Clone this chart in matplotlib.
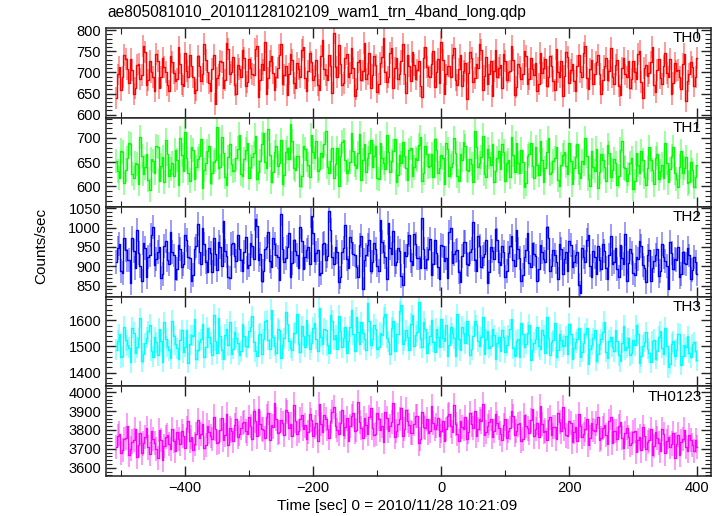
import numpy as np
import matplotlib
matplotlib.use("Agg")
import matplotlib.pyplot as plt
from matplotlib.ticker import MultipleLocator

plt.rcParams['font.family'] = ['Liberation Sans', 'DejaVu Sans']

title = "ae805081010_20101128102109_wam1_trn_4band_long.qdp"
xlabel = "Time [sec] 0 = 2010/11/28 10:21:09"
ylabel = "Counts/sec"

# bins: first half-set starts at t_start, second half-set is offset by half a step
t_start = -507.5
bin_width = 5.0

names = ["TH0", "TH1", "TH2", "TH3", "TH0123"]
colors = ["#ff0000", "#00ff00", "#0000ff", "#00ffff", "#ff00ff"]

th0_a = [640, 712, 688, 731, 676, 705, 662, 719, 694, 748, 681, 702, 655, 726, 690, 713, 671, 738, 699, 684,
         721, 667, 703, 742, 688, 659, 715, 697, 730, 676, 708, 625, 693, 724, 681, 756, 702, 669, 717, 690,
         735, 678, 711, 694, 762, 683, 706, 648, 727, 699, 688, 741, 672, 714, 697, 730, 664, 709, 752, 686,
         703, 724, 691, 669, 738, 707, 682, 715, 794, 688, 721, 676, 744, 698, 710, 661, 729, 703, 685, 747,
         693, 717, 672, 736, 701, 689, 758, 711, 684, 726, 697, 742, 679, 718, 705, 667, 733, 712, 688, 751,
         702, 676, 729, 695, 714, 741, 683, 707, 668, 722, 699, 735, 687, 710, 754, 692, 673, 726, 704, 689,
         718, 744, 681, 703, 729, 665, 712, 696, 739, 684, 707, 722, 673, 698, 731, 688, 715, 659, 702, 726,
         691, 737, 706, 679, 714, 700, 745, 686, 709, 672, 724, 697, 681, 733, 704, 690, 718, 668, 711, 695,
         728, 684, 702, 743, 677, 710, 692, 724, 669, 706, 687, 715, 698, 731, 676, 703, 689, 720, 632, 697,
         712, 688]
th0_b = [695, 658, 742, 707, 731, 649, 718, 684, 763, 671, 726, 690, 744, 662, 735, 701, 657, 724, 680, 759,
         673, 745, 689, 716, 652, 738, 679, 767, 702, 655, 741, 687, 728, 664, 770, 695, 736, 648, 709, 753,
         668, 732, 697, 755, 642, 719, 771, 686, 738, 659, 711, 768, 693, 647, 743, 676, 722, 690, 761, 657,
         746, 681, 729, 658, 776, 694, 740, 651, 713, 764, 670, 733, 689, 757, 643, 725, 683, 769, 696, 662,
         739, 654, 722, 781, 678, 745, 663, 734, 697, 768, 652, 716, 749, 684, 727, 641, 759, 692, 720, 666,
         731, 772, 650, 715, 688, 757, 669, 742, 703, 636, 748, 677, 720, 766, 659, 737, 695, 644, 753, 710,
         664, 728, 702, 762, 647, 719, 685, 751, 672, 733, 694, 657, 745, 711, 667, 738, 680, 756, 690, 643,
         749, 676, 721, 655, 740, 688, 763, 661, 729, 697, 742, 650, 716, 682, 758, 673, 730, 646, 735, 689,
         662, 726, 684, 751, 639, 717, 698, 759, 654, 731, 673, 746, 688, 649, 722, 706, 661, 743, 679, 725,
         668, 734]

th1_a = [652, 618, 671, 633, 690, 626, 648, 605, 662, 639, 614, 657, 628, 681, 643, 609, 667, 636, 621, 654,
         699, 631, 658, 612, 675, 640, 662, 597, 649, 684, 627, 655, 638, 702, 619, 661, 646, 633, 678, 625,
         657, 689, 641, 668, 616, 652, 711, 637, 664, 629, 683, 648, 605, 671, 656, 694, 634, 662, 621, 677,
         645, 706, 658, 632, 669, 687, 641, 653, 618, 679, 662, 696, 627, 650, 673, 638, 709, 655, 629, 668,
         641, 684, 616, 659, 636, 671, 652, 697, 624, 648, 662, 613, 680, 639, 655, 701, 628, 666, 643, 619,
         675, 637, 658, 690, 622, 649, 668, 611, 654, 683, 631, 646, 714, 639, 661, 626, 677, 645, 608, 659,
         636, 672, 648, 619, 664, 690, 628, 651, 606, 667, 642, 681, 623, 655, 637, 699, 630, 658, 614, 645,
         671, 626, 652, 638, 687, 617, 646, 663, 601, 640, 678, 629, 655, 612, 669, 634, 648, 621, 693, 637,
         626, 659, 611, 644, 673, 620, 638, 654, 604, 667, 631, 618, 649, 636, 682, 615, 641, 627, 660, 609,
         633, 619]
th1_b = [631, 674, 607, 659, 688, 618, 646, 702, 625, 667, 593, 652, 683, 611, 660, 696, 622, 649, 675, 603,
         664, 712, 628, 681, 615, 657, 697, 634, 673, 606, 650, 722, 641, 668, 603, 688, 632, 659, 707, 621,
         676, 617, 661, 705, 630, 687, 651, 718, 609, 670, 642, 696, 624, 679, 728, 638, 662, 601, 684, 655,
         619, 672, 693, 636, 660, 715, 627, 680, 646, 601, 692, 655, 633, 711, 644, 669, 614, 687, 658, 696,
         662, 617, 690, 648, 707, 629, 673, 608, 664, 691, 637, 675, 621, 658, 686, 612, 683, 640, 667, 698,
         628, 664, 605, 677, 641, 700, 622, 666, 691, 634, 657, 608, 681, 648, 705, 619, 660, 688, 631, 673,
         687, 612, 655, 701, 629, 648, 676, 598, 662, 689, 617, 644, 693, 608, 670, 625, 653, 682, 601, 664,
         642, 690, 604, 661, 627, 653, 700, 615, 674, 632, 596, 667, 641, 685, 620, 657, 603, 676, 639, 612,
         649, 595, 668, 627, 654, 602, 681, 633, 659, 616, 645, 689, 608, 662, 627, 599, 673, 638, 606, 651,
         598, 644]

th2_a = [910, 958, 882, 941, 917, 973, 896, 935, 862, 948, 924, 981, 903, 937, 869, 952, 915, 990, 928, 894,
         945, 907, 968, 921, 878, 953, 936, 999, 912, 947, 885, 931, 964, 902, 940, 873, 957, 926, 982, 915,
         938, 896, 961, 919, 1004, 932, 887, 950, 913, 972, 929, 864, 946, 921, 985, 908, 939, 896, 966, 924,
         951, 1031, 914, 942, 883, 960, 927, 995, 906, 938, 871, 948, 919, 976, 933, 897, 954, 842, 929, 968,
         910, 944, 889, 962, 925, 1012, 931, 903, 948, 876, 937, 959, 914, 983, 922, 895, 946, 918, 971, 906,
         935, 867, 953, 921, 989, 909, 940, 884, 927, 962, 903, 944, 916, 978, 898, 931, 858, 950, 920, 967,
         904, 937, 889, 952, 915, 995, 921, 878, 943, 909, 961, 927, 893, 938, 912, 973, 900, 929, 866, 946,
         918, 887, 954, 910, 936, 831, 925, 967, 902, 940, 879, 917, 958, 896, 930, 906, 948, 873, 921, 984,
         909, 934, 877, 919, 952, 896, 928, 863, 913, 945, 889, 924, 901, 962, 892, 916, 871, 937, 905, 928,
         890, 912]
th2_b = [948, 889, 972, 915, 856, 939, 993, 901, 960, 873, 929, 1002, 918, 951, 880, 966, 906, 937, 868, 955,
         899, 981, 924, 863, 946, 1010, 907, 958, 885, 934, 972, 891, 949, 1017, 926, 870, 961, 913, 944, 889,
         975, 903, 952, 1023, 917, 861, 945, 988, 899, 957, 925, 1036, 911, 949, 872, 969, 930, 1001, 893, 941,
         906, 985, 934, 877, 958, 915, 1042, 923, 950, 859, 937, 1006, 896, 964, 928, 873, 979, 917, 955, 888,
         961, 902, 1019, 936, 867, 947, 991, 910, 939, 852, 926, 982, 903, 958, 921, 1026, 895, 944, 877, 968,
         897, 956, 914, 870, 998, 931, 943, 860, 963, 905, 937, 1014, 889, 952, 925, 968, 884, 939, 996, 911,
         952, 873, 935, 978, 901, 946, 862, 924, 987, 898, 933, 861, 955, 919, 1003, 887, 942, 911, 958, 879,
         936, 965, 897, 928, 852, 947, 910, 982, 871, 925, 953, 894, 939, 866, 979, 912, 893, 954, 907, 861,
         944, 882, 923, 965, 903, 859, 941, 896, 929, 874, 957, 913, 842, 935, 918, 951, 880, 909, 947, 868,
         925, 879]

th3_a = [1488, 1547, 1462, 1523, 1495, 1571, 1476, 1531, 1443, 1512, 1558, 1484, 1536, 1467, 1519, 1592, 1501, 1455, 1540, 1493,
         1526, 1478, 1563, 1509, 1541, 1452, 1517, 1584, 1496, 1535, 1469, 1522, 1607, 1488, 1544, 1504, 1471, 1556, 1513, 1481,
         1539, 1497, 1574, 1518, 1463, 1549, 1528, 1601, 1490, 1537, 1475, 1561, 1506, 1632, 1521, 1486, 1553, 1510, 1578, 1499,
         1544, 1515, 1589, 1481, 1536, 1567, 1504, 1620, 1527, 1492, 1558, 1533, 1476, 1575, 1546, 1611, 1509, 1553, 1488, 1597,
         1530, 1566, 1499, 1545, 1623, 1518, 1571, 1484, 1549, 1660, 1523, 1538, 1587, 1503, 1556, 1529, 1594, 1475, 1541, 1517,
         1568, 1497, 1534, 1582, 1506, 1551, 1463, 1528, 1576, 1512, 1545, 1489, 1598, 1520, 1536, 1471, 1559, 1502, 1543, 1514,
         1481, 1537, 1505, 1566, 1493, 1521, 1458, 1546, 1510, 1583, 1487, 1528, 1501, 1562, 1474, 1533, 1517, 1591, 1485, 1524,
         1506, 1472, 1548, 1493, 1527, 1461, 1515, 1570, 1490, 1532, 1446, 1509, 1555, 1479, 1521, 1498, 1562, 1467, 1513, 1488,
         1532, 1474, 1505, 1549, 1462, 1517, 1491, 1440, 1526, 1483, 1558, 1470, 1501, 1433, 1519, 1487, 1546, 1464, 1498, 1475,
         1509, 1482]
th3_b = [1521, 1458, 1575, 1504, 1439, 1552, 1497, 1609, 1472, 1534, 1583, 1460, 1516, 1567, 1441, 1529, 1486, 1598, 1509, 1453,
         1562, 1498, 1437, 1543, 1605, 1486, 1528, 1459, 1571, 1515, 1622, 1474, 1539, 1451, 1566, 1595, 1492, 1533, 1468, 1587,
         1501, 1558, 1616, 1482, 1545, 1471, 1597, 1526, 1640, 1503, 1568, 1455, 1532, 1587, 1494, 1551, 1624, 1478, 1540, 1603,
         1489, 1571, 1530, 1648, 1509, 1562, 1473, 1599, 1543, 1617, 1497, 1574, 1520, 1638, 1482, 1556, 1592, 1527, 1665, 1504,
         1583, 1491, 1552, 1612, 1534, 1470, 1596, 1548, 1635, 1508, 1561, 1487, 1619, 1542, 1672, 1497, 1568, 1515, 1601, 1479,
         1537, 1604, 1521, 1462, 1573, 1531, 1623, 1485, 1552, 1597, 1469, 1540, 1581, 1503, 1612, 1527, 1494, 1566, 1451, 1535,
         1562, 1478, 1541, 1604, 1462, 1527, 1590, 1496, 1553, 1447, 1515, 1576, 1489, 1542, 1611, 1468, 1523, 1458, 1547, 1501,
         1539, 1587, 1453, 1516, 1572, 1480, 1548, 1432, 1507, 1561, 1471, 1528, 1594, 1455, 1536, 1482, 1519, 1443, 1580, 1497,
         1467, 1525, 1581, 1438, 1503, 1555, 1476, 1519, 1452, 1537, 1495, 1571, 1420, 1510, 1463, 1548, 1429, 1506, 1540, 1459,
         1516, 1447]

th0123_a = [3712, 3781, 3695, 3758, 3667, 3739, 3804, 3721, 3680, 3763, 3708, 3792, 3733, 3654, 3749, 3716, 3775, 3698, 3741, 3787,
            3725, 3768, 3811, 3742, 3696, 3779, 3757, 3834, 3720, 3788, 3751, 3806, 3737, 3862, 3774, 3719, 3797, 3828, 3761, 3809,
            3843, 3779, 3821, 3898, 3766, 3834, 3802, 3871, 3749, 3818, 3857, 3791, 3836, 3905, 3813, 3768, 3847, 3795, 3881, 3824,
            3789, 3852, 3817, 3740, 3831, 3879, 3806, 3846, 3923, 3798, 3838, 3772, 3861, 3819, 3887, 3801, 3842, 3757, 3826, 3868,
            3812, 3779, 3856, 3823, 3894, 3797, 3841, 3762, 3829, 3915, 3804, 3847, 3786, 3833, 3872, 3751, 3818, 3859, 3795, 3837,
            3824, 3769, 3848, 3807, 3882, 3791, 3833, 3740, 3817, 3866, 3788, 3829, 3901, 3803, 3845, 3776, 3822, 3858, 3794, 3836,
            3781, 3827, 3759, 3812, 3874, 3796, 3838, 3752, 3819, 3786, 3913, 3805, 3764, 3831, 3797, 3852, 3774, 3816, 3889, 3792,
            3808, 3766, 3835, 3791, 3743, 3822, 3779, 3857, 3760, 3798, 3834, 3748, 3811, 3772, 3846, 3731, 3794, 3819, 3757, 3785,
            3762, 3731, 3797, 3748, 3692, 3770, 3736, 3805, 3715, 3758, 3689, 3779, 3741, 3711, 3784, 3726, 3667, 3753, 3709, 3771,
            3722, 3745]
th0123_b = [3768, 3679, 3751, 3823, 3702, 3746, 3659, 3785, 3729, 3812, 3673, 3754, 3701, 3798, 3642, 3761, 3725, 3806, 3688, 3754,
            3792, 3703, 3846, 3762, 3727, 3851, 3780, 3705, 3823, 3769, 3871, 3732, 3798, 3749, 3883, 3808, 3744, 3859, 3781, 3837,
            3794, 3870, 3752, 3846, 3913, 3807, 3759, 3888, 3825, 3941, 3786, 3852, 3773, 3893, 3829, 3934, 3781, 3859, 3807, 3752,
            3882, 3768, 3839, 3936, 3787, 3858, 3760, 3894, 3823, 3779, 3905, 3816, 3744, 3873, 3792, 3948, 3811, 3862, 3778, 3917,
            3774, 3889, 3801, 3739, 3862, 3819, 3941, 3795, 3856, 3767, 3908, 3826, 3783, 3873, 3729, 3897, 3812, 3786, 3928, 3805,
            3861, 3795, 3744, 3876, 3821, 3930, 3779, 3847, 3806, 3752, 3889, 3812, 3769, 3857, 3935, 3790, 3840, 3761, 3884, 3809,
            3748, 3856, 3795, 3901, 3772, 3829, 3743, 3881, 3808, 3852, 3766, 3838, 3927, 3789, 3747, 3866, 3817, 3751, 3843, 3920,
            3771, 3849, 3738, 3818, 3882, 3765, 3803, 3719, 3837, 3792, 3871, 3756, 3824, 3727, 3866, 3795, 3751, 3843, 3706, 3812,
            3723, 3791, 3684, 3765, 3815, 3702, 3749, 3668, 3788, 3731, 3807, 3676, 3762, 3728, 3651, 3776, 3739, 3802, 3690, 3747,
            3688, 3710]

errors = [26, 25, 31, 40, 64]
series = [(th0_a, th0_b), (th1_a, th1_b), (th2_a, th2_b), (th3_a, th3_b), (th0123_a, th0123_b)]

ylims = [(593, 805), (557, 742), (821, 1053), (1347, 1690), (3557, 4030)]
ymajor = [50, 50, 50, 100, 100]
yminor = [10, 10, 10, 20, 20]

W, H = 723, 516
fig = plt.figure(figsize=(W / 100, H / 100), dpi=100)
left, right = 106 / W, 711 / W
top, bottom = 1 - 28 / H, 1 - 476 / H
gs = fig.add_gridspec(5, 1, left=left, right=right, top=top, bottom=bottom, hspace=0)

for i in range(5):
    ax = fig.add_subplot(gs[i])
    a, b = series[i]
    y = np.column_stack([np.asarray(a, float), np.asarray(b, float)]).ravel()
    ta = t_start + bin_width * np.arange(len(a))
    t = np.column_stack([ta, ta + bin_width / 2]).ravel()
    ax.vlines(t, y - errors[i], y + errors[i], colors=colors[i], alpha=0.5, lw=1.1)
    ax.plot(t, y, color=colors[i], lw=1.0, drawstyle='steps-mid')
    ax.set_xlim(-523.4, 421.4)
    ax.set_ylim(*ylims[i])
    ax.xaxis.set_major_locator(MultipleLocator(200))
    ax.xaxis.set_minor_locator(MultipleLocator(100))
    ax.yaxis.set_major_locator(MultipleLocator(ymajor[i]))
    ax.yaxis.set_minor_locator(MultipleLocator(yminor[i]))
    ax.tick_params(which='both', direction='in', top=True, right=True, colors='#222222',
                   labelcolor='black', labelsize=10.5)
    ax.tick_params(which='major', length=7, width=1)
    ax.tick_params(which='minor', length=4, width=0.8)
    for s in ax.spines.values():
        s.set_linewidth(1.1)
        s.set_color('#222222')
    if i < 4:
        ax.tick_params(labelbottom=False)
    ax.text(0.985, 0.965, names[i], transform=ax.transAxes, ha='right', va='top', fontsize=11)

fig.text(107 / W, 1 - 12 / H, title, ha='left', va='center', fontsize=11.2)
fig.text(397 / W, 1 - 506 / H, xlabel, ha='center', va='center', fontsize=11.1)
fig.text(41 / W, 1 - 246 / H, ylabel, ha='center', va='center', rotation=90, fontsize=11)

fig.savefig("out.png", dpi=100)
